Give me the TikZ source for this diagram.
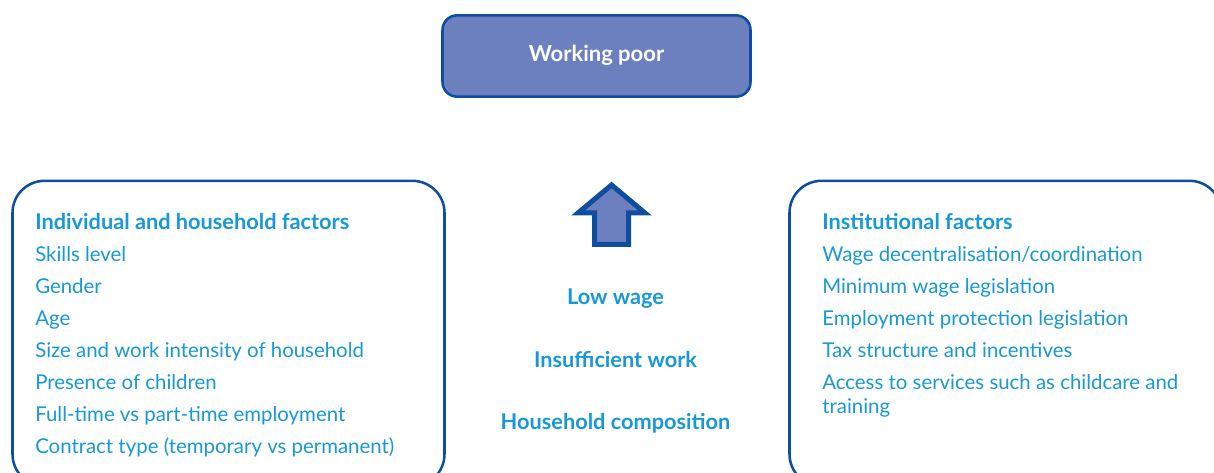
\documentclass[tikz,border=0pt]{standalone}
\usepackage{fontspec}
\setmainfont{Lato}
\usetikzlibrary{positioning}
\definecolor{boxblue}{HTML}{0D4EA0}
\definecolor{fillblue}{HTML}{6C80BF}
\definecolor{textblue}{HTML}{1798D8}

\begin{document}
\begin{tikzpicture}
  [x=0.75pt,y=-0.75pt,
   every node/.style={text=textblue,inner sep=0pt,font=\fontsize{15.3}{18}\selectfont},
   factor/.style={anchor=base west,align=left},
   head/.style={factor,font=\fontsize{16.3}{18}\selectfont\bfseries},
   cause/.style={anchor=base,font=\fontsize{16.3}{18}\selectfont\bfseries},
   panel/.style={draw=boxblue,line width=1.9pt,rounded corners=24pt,
                 minimum width=324pt,minimum height=229pt}]
  \clip (0,0) rectangle (1214,473);
  % top box
  \node[draw=boxblue,fill=fillblue,line width=1.9pt,rounded corners=11pt,
        minimum width=231pt,minimum height=61pt] (poor) at (596.5,56) {};
  \node[anchor=base,text=white,font=\fontsize{16.5}{18}\selectfont\bfseries] (poortxt) at (596.5,61.5) {Working poor};
  % side panels
  \node[panel] (indiv) at (228.5,333.5) {};
  \node[panel] (inst) at (1005.5,333.5) {};
  % arrow
  \draw[boxblue,fill=fillblue,line width=3.75pt]
    (611.5,185) -- (645,213) -- (628.5,213) -- (628.5,244.5) -- (594.5,244.5)
    -- (594.5,213) -- (578,213) -- cycle;
  % causes
  \node[cause] (wage) at (615.5,305) {Low wage};
  \node[cause] (work) at (615.5,367.5) {Insufficient work};
  \node[cause] (comp) at (615.5,430) {Household composition};
  % left list
  \node[head] (indhead) at (35,229.5) {Individual and household factors};
  \foreach \txt [count=\i] in {Skills level,Gender,Age,Size and work intensity of household,
      Presence of children,Full-time vs part-time employment,{Contract type (temporary vs permanent)}}
    \node[factor] (ind\i) at (35,229.5+32*\i) {\txt};
  % right list
  \node[head] (insthead) at (822,229.5) {Institutional factors};
  \foreach \txt [count=\i] in {Wage decentralisation/coordination,Minimum wage legislation,
      Employment protection legislation,Tax structure and incentives}
    \node[factor] (inst\i) at (822,229.5+32*\i) {\txt};
  \node[factor] (inst5) at (822,413.5) {Access to services such as childcare and\\training};
\end{tikzpicture}
\end{document}
